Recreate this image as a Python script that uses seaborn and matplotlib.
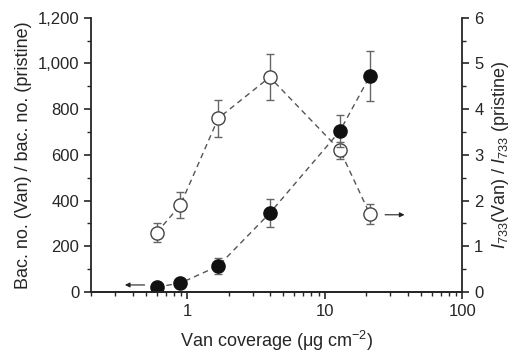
import numpy as np
import pandas as pd
import matplotlib
matplotlib.use("Agg")
import matplotlib.pyplot as plt
from matplotlib.ticker import FuncFormatter, MultipleLocator, LogLocator
import seaborn as sns

sns.set_style("ticks")
plt.rcParams["font.family"] = ["Liberation Sans", "DejaVu Sans"]
plt.rcParams["mathtext.fontset"] = "custom"
plt.rcParams["mathtext.rm"] = "Liberation Sans"
plt.rcParams["mathtext.it"] = "Liberation Sans:italic"

# Bacteria number ratio (left axis, filled circles)
bac_x = [0.60, 0.89, 1.68, 3.98, 12.9, 21.3]
bac_y = [22, 39, 114, 345, 705, 945]
bac_err = [0, 0, 37, 60, 70, 110]

# Raman intensity ratio (right axis, open circles)
ram_x = [0.60, 0.89, 1.68, 3.98, 12.9, 21.3]
ram_y = [1.30, 1.90, 3.80, 4.70, 3.10, 1.70]
ram_err = [0.20, 0.28, 0.40, 0.50, 0.18, 0.22]

bac = pd.DataFrame({"x": bac_x, "y": bac_y})
ram = pd.DataFrame({"x": ram_x, "y": ram_y})

fig, ax = plt.subplots(figsize=(5.12, 3.54), dpi=100)
ax2 = ax.twinx()

line_kw = dict(color="#555555", linestyle=(0, (4, 3)), linewidth=1.0)

sns.lineplot(data=ram, x="x", y="y", ax=ax2, **line_kw, zorder=1)
ax2.errorbar(ram_x, ram_y, yerr=ram_err, fmt="o", ms=9.5, mfc="white",
             mec="#444444", mew=1.0, ecolor="#666666", elinewidth=1.0,
             capsize=3, capthick=1.0, zorder=2)

sns.lineplot(data=bac, x="x", y="y", ax=ax, **line_kw, zorder=1)
ax.errorbar(bac_x, bac_y, yerr=bac_err, fmt="o", ms=9.5, mfc="#111111",
            mec="#111111", ecolor="#666666", elinewidth=1.0,
            capsize=3, capthick=1.0, zorder=2)

# Put left axes above twin so filled points overlay
ax.set_zorder(ax2.get_zorder() + 1)
ax.patch.set_visible(False)

ax.set_xscale("log")
ax.set_xlim(0.2, 100)
ax.set_ylim(0, 1200)
ax2.set_ylim(0, 6)

ax.yaxis.set_major_locator(MultipleLocator(200))
ax.yaxis.set_minor_locator(MultipleLocator(100))
ax.yaxis.set_major_formatter(FuncFormatter(lambda v, p: f"{int(v):,}"))
ax2.yaxis.set_major_locator(MultipleLocator(1))
ax2.yaxis.set_minor_locator(MultipleLocator(0.5))
ax.xaxis.set_major_formatter(FuncFormatter(lambda v, p: f"{v:g}"))
ax.xaxis.set_minor_locator(LogLocator(base=10, subs=np.arange(2, 10), numticks=20))

for a in (ax, ax2):
    a.spines["top"].set_visible(False)
    for s in a.spines.values():
        s.set_linewidth(1.3)
    a.tick_params(which="major", length=5, width=1.2, labelsize=12, direction="out")
    a.tick_params(which="minor", length=3, width=1.0, direction="out")
    a.set_xlabel("")
ax.spines["right"].set_visible(False)
ax2.spines["left"].set_visible(False)

ax.set_xlabel("Van coverage (\u03bcg cm$^{-2}$)", fontsize=13, labelpad=7)
ax.set_ylabel("Bac. no. (Van) / bac. no. (pristine)", fontsize=13)
ax2.set_ylabel("$I_{733}$(Van) / $I_{733}$ (pristine)", fontsize=13, labelpad=5)

# Arrows pointing to the relevant axis
ax.annotate("", xy=(0.336, 31), xytext=(0.513, 31),
            arrowprops=dict(arrowstyle="-|>", color="#222222", lw=0.8,
                            mutation_scale=7))
ax2.annotate("", xy=(39.8, 1.69), xytext=(26.2, 1.69),
             arrowprops=dict(arrowstyle="-|>", color="#222222", lw=0.8,
                             mutation_scale=7))

fig.subplots_adjust(left=0.178, right=0.903, top=0.95, bottom=0.175)
fig.savefig("out.png", dpi=100)
